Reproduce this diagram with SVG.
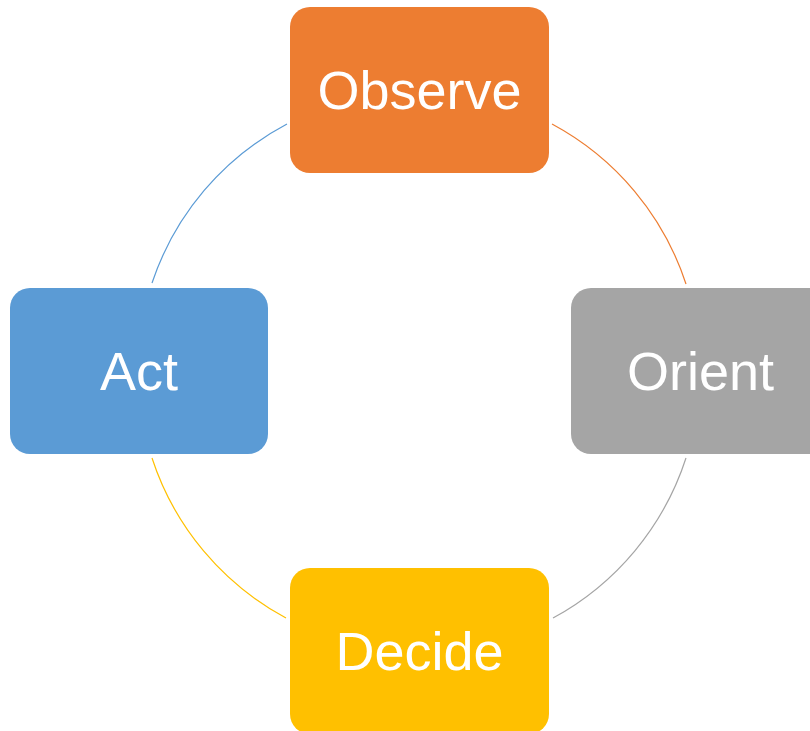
<svg xmlns="http://www.w3.org/2000/svg" width="810" height="731" viewBox="0 0 810 731">
<style>
.lbl{font-family:"Liberation Sans",Arial,sans-serif;font-size:54px;fill:#fff;text-anchor:middle}
.arc{fill:none;stroke-width:1.2}
</style>
<rect width="810" height="731" fill="#fff"/>
<g id="connectors">
<path class="arc" stroke="#5B9BD5" d="M287,124 A280.5,280.5 0 0 0 152,283"/>
<path class="arc" stroke="#ED7D31" d="M552,124 A280.5,280.5 0 0 1 686,284"/>
<path class="arc" stroke="#A5A5A5" d="M686,458 A280.5,280.5 0 0 1 553,618"/>
<path class="arc" stroke="#FFC000" d="M286,618 A280.5,280.5 0 0 1 152,458"/>
</g>
<g id="observe">
<rect x="290" y="7" width="259" height="166" rx="20" fill="#ED7D31"/>
<text class="lbl" x="419.5" y="109">Observe</text>
</g>
<g id="orient">
<rect x="571" y="288" width="259" height="166" rx="20" fill="#A5A5A5"/>
<text class="lbl" x="700.5" y="390">Orient</text>
</g>
<g id="decide">
<rect x="290" y="568" width="259" height="166" rx="20" fill="#FFC000"/>
<text class="lbl" x="419.5" y="670">Decide</text>
</g>
<g id="act">
<rect x="10" y="288" width="258" height="166" rx="20" fill="#5B9BD5"/>
<text class="lbl" x="139" y="390">Act</text>
</g>
</svg>
